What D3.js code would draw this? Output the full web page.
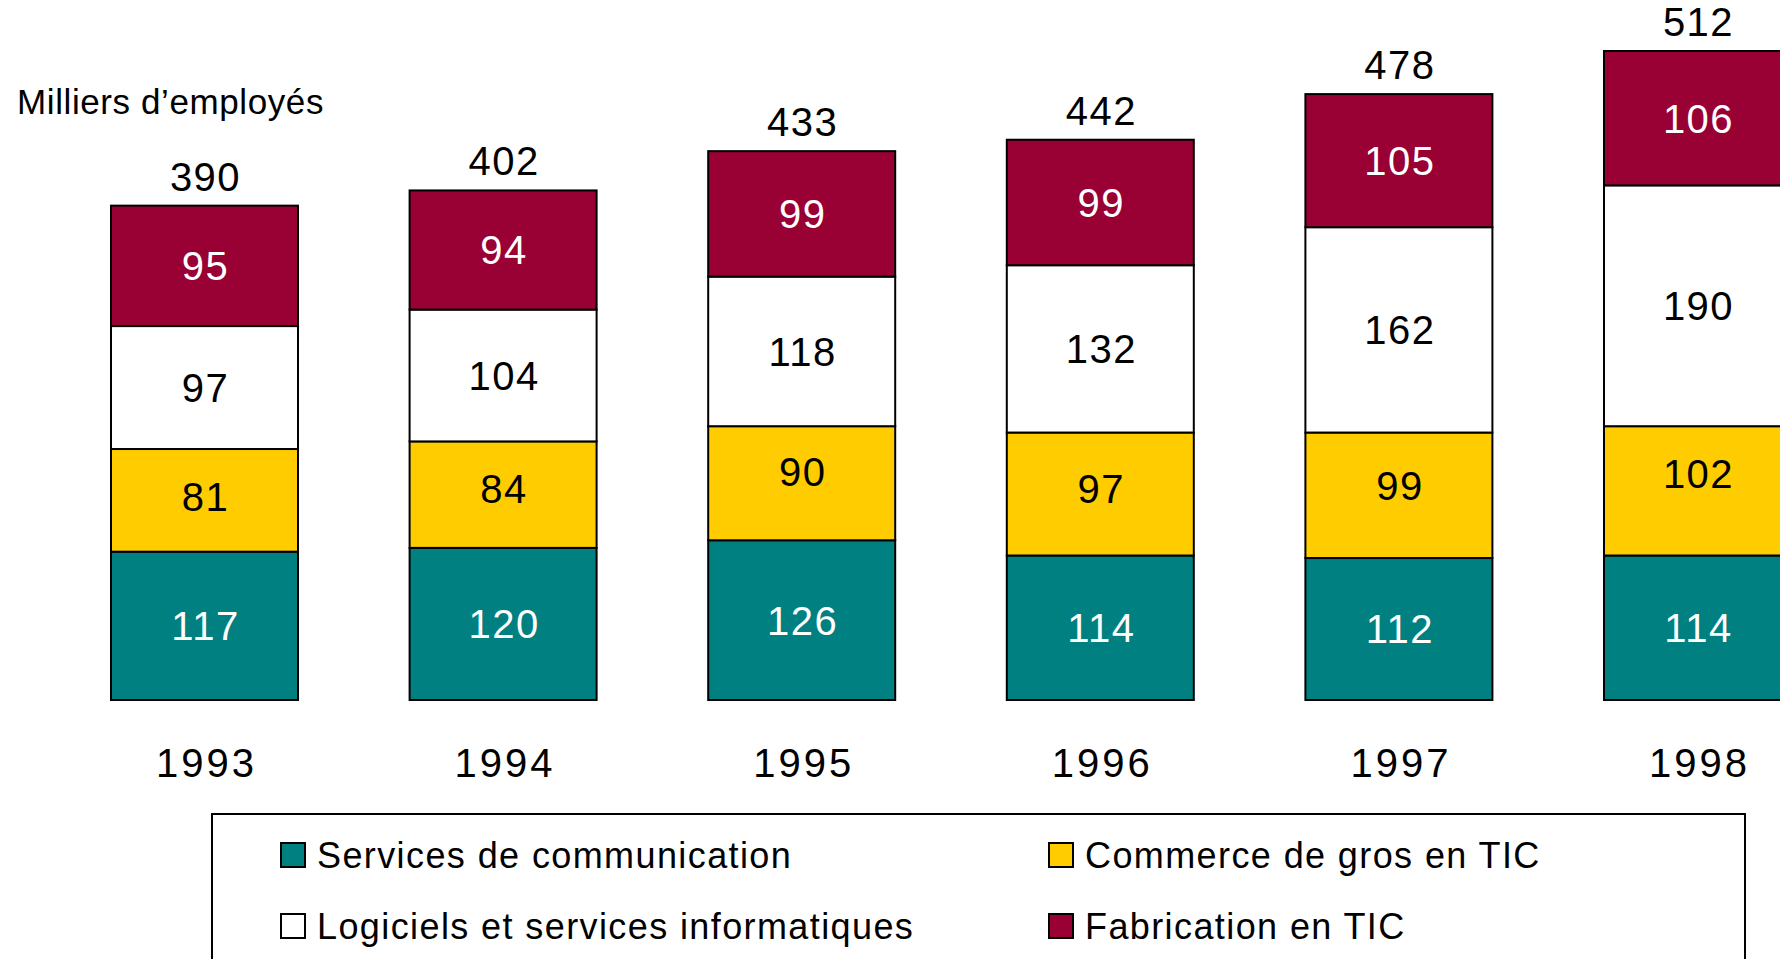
<!DOCTYPE html>
<html>
<head>
<meta charset="utf-8">
<script src="https://cdn.jsdelivr.net/npm/d3@7"></script>
<style>
  body { margin: 0; background: #fff; }
  svg { display: block; font-family: "Liberation Sans", Arial, sans-serif; }
</style>
</head>
<body>
<svg></svg>
<script>
// data
var years = ["1993", "1994", "1995", "1996", "1997", "1998"];
var keys = ["services", "commerce", "logiciels", "fabrication"];
var labels = ["Services de communication", "Commerce de gros en TIC",
              "Logiciels et services informatiques", "Fabrication en TIC"];
var services = [117, 120, 126, 114, 112, 114];
var commerce = [81, 84, 90, 97, 99, 102];
var logiciels = [97, 104, 118, 132, 162, 190];
var fabrication = [95, 94, 99, 99, 105, 106];
var totals = [390, 402, 433, 442, 478, 512];

var colors = {services: "#008080", commerce: "#FFCC00", logiciels: "#FFFFFF", fabrication: "#990033"};
var textColors = {services: "#fff", commerce: "#000", logiciels: "#000", fabrication: "#fff"};
// the yellow labels sit a little high in the original
var commerceNudge = [-4, -6, -12, -5, -10, -17];

var width = 1780, height = 959;

var svg = d3.select("svg")
    .attr("width", width)
    .attr("height", height);

var table = years.map(function(y, i) {
  return {year: y, idx: i, services: services[i], commerce: commerce[i],
          logiciels: logiciels[i], fabrication: fabrication[i], total: totals[i]};
});

var step = 298.6, bw = 187;
var x = d3.scaleBand()
    .domain(years)
    .range([111, 111 + years.length * step - (step - bw)])
    .paddingInner((step - bw) / step)
    .paddingOuter(0);

var y = d3.scaleLinear()
    .domain([0, 512])
    .range([700, 51]);

var stacked = d3.stack().keys(keys)(table);

// bars
var layer = svg.append("g")
  .selectAll("g")
  .data(stacked)
  .enter().append("g");

layer.selectAll("rect")
  .data(function(d) { return d.map(function(v) { v.key = d.key; return v; }); })
  .enter().append("rect")
    .attr("x", function(d) { return x(d.data.year); })
    .attr("y", function(d) { return y(d[1]); })
    .attr("width", x.bandwidth())
    .attr("height", function(d) { return y(d[0]) - y(d[1]); })
    .attr("fill", function(d) { return colors[d.key]; })
    .attr("stroke", "#000")
    .attr("stroke-width", 2);

layer.selectAll("text")
  .data(function(d) { return d; })
  .enter().append("text")
    .attr("x", function(d) { return x(d.data.year) + x.bandwidth() / 2 + 1; })
    .attr("y", function(d) {
      var off = d.key == "commerce" ? commerceNudge[d.data.idx] : 0;
      return (y(d[0]) + y(d[1])) / 2 + off;
    })
    .attr("dy", "0.36em")
    .attr("text-anchor", "middle")
    .attr("font-size", 40)
    .attr("letter-spacing", 1.5)
    .attr("fill", function(d) { return textColors[d.key]; })
    .text(function(d) { return d[1] - d[0]; });

// totals on top
svg.append("g").selectAll("text")
  .data(table)
  .enter().append("text")
    .attr("x", function(d) { return x(d.year) + x.bandwidth() / 2 + 1; })
    .attr("y", function(d) { return y(d.total) - 15; })
    .attr("text-anchor", "middle")
    .attr("font-size", 40)
    .attr("letter-spacing", 1.5)
    .text(function(d) { return d.total; });

// year labels
svg.append("g").selectAll("text")
  .data(years)
  .enter().append("text")
    .attr("x", function(d) { return x(d) + x.bandwidth() / 2 + 2; })
    .attr("y", 777)
    .attr("text-anchor", "middle")
    .attr("font-size", 40)
    .attr("letter-spacing", 3)
    .text(function(d) { return d; });

// unit title
svg.append("text")
    .attr("x", 17)
    .attr("y", 114)
    .attr("font-size", 35)
    .attr("letter-spacing", 0.6)
    .text("Milliers d\u2019employés");

// legend
svg.append("rect")
    .attr("x", 212)
    .attr("y", 814)
    .attr("width", 1533)
    .attr("height", 200)
    .attr("fill", "none")
    .attr("stroke", "#000")
    .attr("stroke-width", 2);

var legendPos = [[281, 843], [1049, 843], [281, 914], [1049, 914]];
var legendOrder = ["services", "commerce", "logiciels", "fabrication"];

var item = svg.append("g").selectAll("g")
  .data(legendOrder)
  .enter().append("g")
    .attr("transform", function(d, i) { return "translate(" + legendPos[i][0] + "," + legendPos[i][1] + ")"; });

item.append("rect")
    .attr("width", 24)
    .attr("height", 24)
    .attr("fill", function(d) { return colors[d]; })
    .attr("stroke", "#000")
    .attr("stroke-width", 2);

item.append("text")
    .attr("x", 36)
    .attr("y", 25)
    .attr("font-size", 36)
    .attr("letter-spacing", 1.4)
    .text(function(d, i) { return labels[keys.indexOf(d)]; });
</script>
</body>
</html>
